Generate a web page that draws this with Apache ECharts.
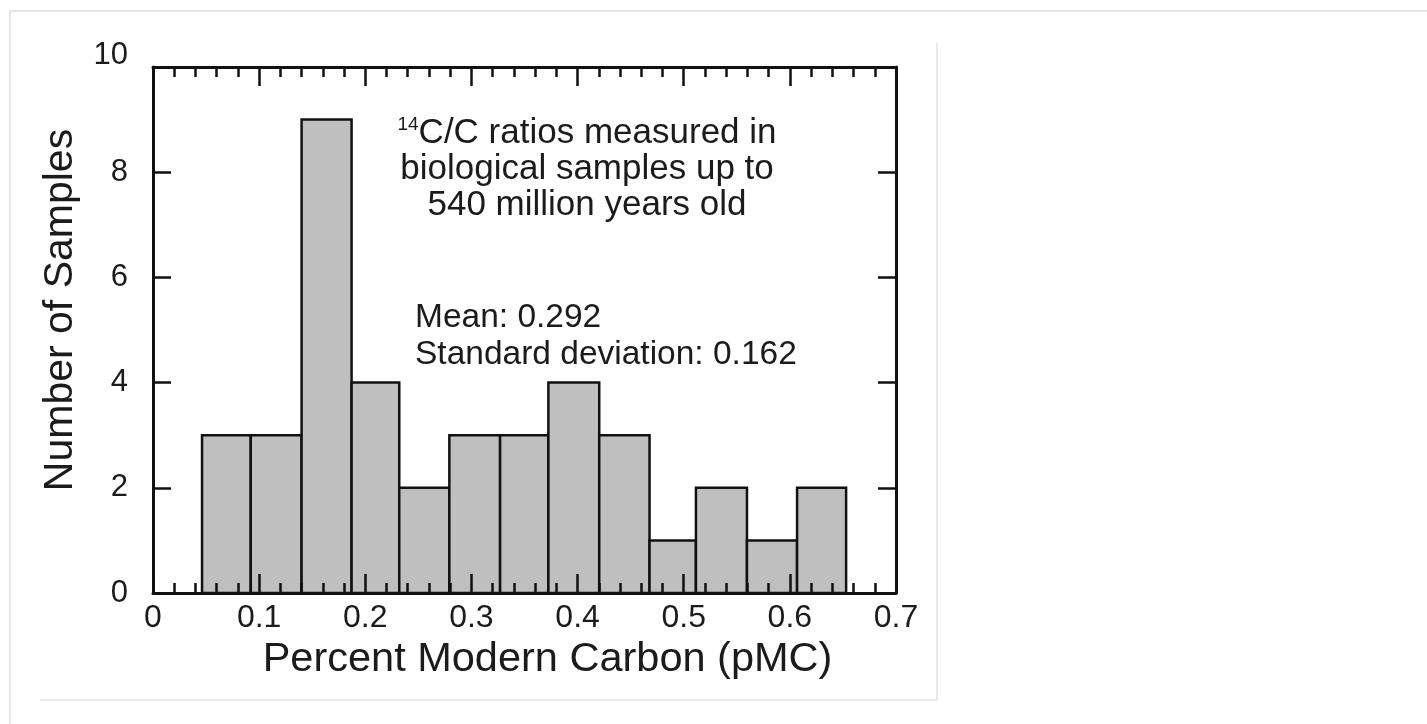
<!DOCTYPE html>
<html>
<head>
<meta charset="utf-8">
<title>Percent Modern Carbon histogram</title>
<script src="https://cdn.jsdelivr.net/npm/echarts@6/dist/echarts.min.js"></script>
<style>
  html, body { margin: 0; padding: 0; background: #fff; }
  #chart { width: 1427px; height: 724px; }
</style>
</head>
<body>
<div id="chart"></div>
<script>
// bin edges (pMC) and sample counts
const binEdges = [0.0462, 0.0921, 0.1400, 0.1871, 0.2320, 0.2792, 0.3270,
  0.3725, 0.4204, 0.4678, 0.5115, 0.5596, 0.6068, 0.6530]
const counts = [3, 3, 9, 4, 2, 3, 3, 4, 3, 1, 2, 1, 2]

const xMin = 0
const xMax = 0.7
const xStep = 0.1
const yMin = 0
const yMax = 10
const yStep = 2

const noteLines = ['{sup|14}C/C ratios measured in', 'biological samples up to', '540 million years old']
const statLines = ['Mean: 0.292', 'Standard deviation: 0.162']

const font = '"Liberation Sans", Arial, Helvetica, sans-serif'
const ink = '#1b1b1b'

const bins = counts.map((c, i) => [binEdges[i], binEdges[i + 1], c])

const chart = echarts.init(document.getElementById('chart'))

const axisLine = { show: true, onZero: false, lineStyle: { color: '#111', width: 3 } }

const xAxisBase = {
  type: 'value',
  min: xMin,
  max: xMax,
  interval: xStep,
  z: 5,
  axisLine,
  axisTick: { show: true, inside: true, length: 19, lineStyle: { color: '#111', width: 2.5 } },
  minorTick: { show: true, splitNumber: 5, length: 10, lineStyle: { color: '#111', width: 2.5 } },
  splitLine: { show: false },
  minorSplitLine: { show: false }
}

const yAxisBase = {
  type: 'value',
  min: yMin,
  max: yMax,
  interval: yStep,
  z: 5,
  axisLine,
  axisTick: { show: true, inside: true, length: 18, lineStyle: { color: '#111', width: 2.5 } },
  splitLine: { show: false }
}

const graphics = [
  // page frame
  { type: 'line', shape: { x1: 10, y1: 11, x2: 1427, y2: 11 }, style: { stroke: '#dddddd', lineWidth: 1.5 } },
  { type: 'line', shape: { x1: 10, y1: 11, x2: 10, y2: 724 }, style: { stroke: '#dddddd', lineWidth: 1.5 } },
  { type: 'line', shape: { x1: 40, y1: 700, x2: 937, y2: 700 }, style: { stroke: '#e2e2e2', lineWidth: 1.5 } },
  { type: 'line', shape: { x1: 937, y1: 43, x2: 937, y2: 700 }, style: { stroke: '#e2e2e2', lineWidth: 1.5 } }
]
noteLines.forEach((t, i) => {
  graphics.push({
    type: 'text',
    x: 587,
    y: 133 + i * 36,
    z: 10,
    style: {
      text: t,
      align: 'center',
      verticalAlign: 'middle',
      fill: ink,
      font: '35px ' + font,
      rich: { sup: { fontSize: 19, fontFamily: font, fill: ink, verticalAlign: 'top', padding: [0, 0, 10, 0] } }
    }
  })
})
statLines.forEach((t, i) => {
  graphics.push({
    type: 'text',
    x: 415,
    y: 318 + i * 37,
    z: 10,
    style: { text: t, align: 'left', verticalAlign: 'middle', fill: ink, font: '33.5px ' + font }
  })
})

const options = {
  backgroundColor: '#fff',
  animation: false,
  grid: { left: 153, right: 531, top: 67, bottom: 131, containLabel: false },
  xAxis: [{
    ...xAxisBase,
    position: 'bottom',
    name: 'Percent Modern Carbon (pMC)',
    nameLocation: 'middle',
    nameGap: 46,
    nameTextStyle: { fontSize: 41.5, fontFamily: font, color: ink, padding: [0, 0, 0, 46] },
    axisLabel: { show: true, margin: 9, fontSize: 32, fontFamily: font, color: ink }
  }, {
    ...xAxisBase,
    position: 'top',
    axisLabel: { show: false }
  }],
  yAxis: [{
    ...yAxisBase,
    position: 'left',
    name: 'Number of Samples',
    nameLocation: 'middle',
    nameGap: 72,
    nameTextStyle: { fontSize: 41, fontFamily: font, color: ink, padding: [0, 0, 0, 40] },
    axisLabel: {
      show: true,
      margin: 25,
      fontSize: 31,
      fontFamily: font,
      color: ink,
      verticalAlign: 'middle',
      // the top label sits raised above the frame in the original
      formatter: (v) => (v === yMax ? '{top|' + v + '}' : String(v)),
      rich: { top: { fontSize: 31, fontFamily: font, color: ink, padding: [0, 0, 24, 0] } }
    }
  }, {
    ...yAxisBase,
    position: 'right',
    axisLabel: { show: false }
  }],
  series: [{
    type: 'custom',
    xAxisIndex: 0,
    yAxisIndex: 0,
    data: bins,
    encode: { x: [0, 1], y: 2 },
    renderItem: (params, api) => {
      const p0 = api.coord([api.value(0), api.value(2)])
      const p1 = api.coord([api.value(1), 0])
      return {
        type: 'rect',
        shape: { x: p0[0], y: p0[1], width: p1[0] - p0[0], height: p1[1] - p0[1] },
        style: { fill: '#bfbfbf', stroke: '#111', lineWidth: 2.5 }
      }
    }
  }],
  graphic: graphics
}

chart.setOption(options)
</script>
</body>
</html>
